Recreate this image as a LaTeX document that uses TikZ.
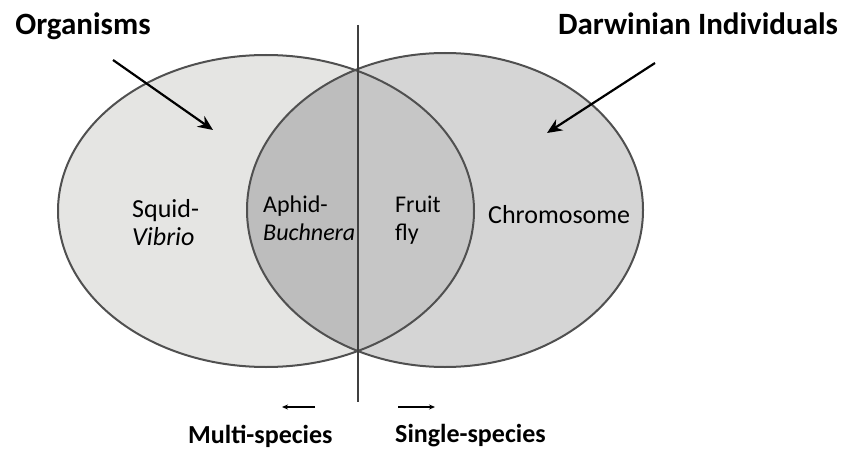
\documentclass[tikz,border=0pt]{standalone}
\usepackage{fontspec}
\setmainfont{Carlito}
\usetikzlibrary{arrows.meta, positioning}

\definecolor{leftfill}{HTML}{E5E5E3}
\definecolor{rightfill}{HTML}{D5D5D5}
\definecolor{midleft}{HTML}{BDBDBD}
\definecolor{midright}{HTML}{C6C6C6}
\definecolor{rim}{HTML}{505050}

\begin{document}
\begin{tikzpicture}[
    x=1pt, y=-1pt,
    lbl/.style={font=\fontsize{24}{26}\selectfont, inner sep=0pt, anchor=base west},
    biglbl/.style={lbl, font=\fontsize{26}{28}\selectfont},
    head/.style={font=\fontsize{31}{33}\selectfont\bfseries, inner sep=0pt, anchor=base},
    foot/.style={font=\fontsize{26}{28}\selectfont\bfseries, inner sep=0pt, anchor=base west},
    pointer/.style={-{Stealth[length=15pt, width=13pt]}, line width=2.2pt},
    hint/.style={-{Stealth[length=6pt, width=5pt]}, line width=1.2pt}
]
\useasboundingbox (0,0) rectangle (853,449);

% the two sets
\fill[leftfill] (266,211) ellipse [x radius=208pt, y radius=156pt];
\fill[rightfill] (445,210) ellipse [x radius=198pt, y radius=157pt];
\begin{scope}
  \clip (266,211) ellipse [x radius=208pt, y radius=156pt];
  \clip (445,210) ellipse [x radius=198pt, y radius=157pt];
  \fill[midleft] (200,0) rectangle (358,449);
  \fill[midright] (358,0) rectangle (500,449);
\end{scope}
\draw[rim, line width=2pt] (266,211) ellipse [x radius=208pt, y radius=156pt];
\draw[rim, line width=2pt] (445,210) ellipse [x radius=198pt, y radius=157pt];

% divider
\coordinate (topcut) at (358,25);
\coordinate (botcut) at (358,402);
\draw[black!75, line width=1.5pt] (topcut) -- (botcut);

% headings
\node[head] (org) at (83,35) {Organisms};
\node[head] (darw) at (698,35) {Darwinian Individuals};
\coordinate (orgtail) at (113,60);
\coordinate (orgtip) at (213,130);
\coordinate (darwtail) at (655,63);
\coordinate (darwtip) at (547,133);
\draw[pointer] (orgtail) -- (orgtip);
\draw[pointer] (darwtail) -- (darwtip);

% members
\node[biglbl] (squid) at (132,217) {Squid-};
\node[biglbl] (vibrio) at ([yshift=-28pt]squid.base west) {\textit{Vibrio}};
\node[lbl] (aphid) at (263,212) {Aphid-};
\node[lbl] (buch) at ([yshift=-28pt]aphid.base west) {\textit{Buchnera}};
\node[lbl] (fruit) at (395,212) {Fruit};
\node[lbl] (fly) at ([yshift=-28pt]fruit.base west) {fly};
\node[biglbl] (chrom) at (488,223) {Chromosome};

% direction
\coordinate (multitail) at (315,407);
\coordinate (multitip) at (282,407);
\coordinate (singletail) at (398,407);
\coordinate (singletip) at (435,407);
\draw[hint] (multitail) -- (multitip);
\draw[hint] (singletail) -- (singletip);
\node[foot] (multi) at (188,443) {Multi-species};
\node[foot] (single) at (395,442) {Single-species};
\end{tikzpicture}
\end{document}
